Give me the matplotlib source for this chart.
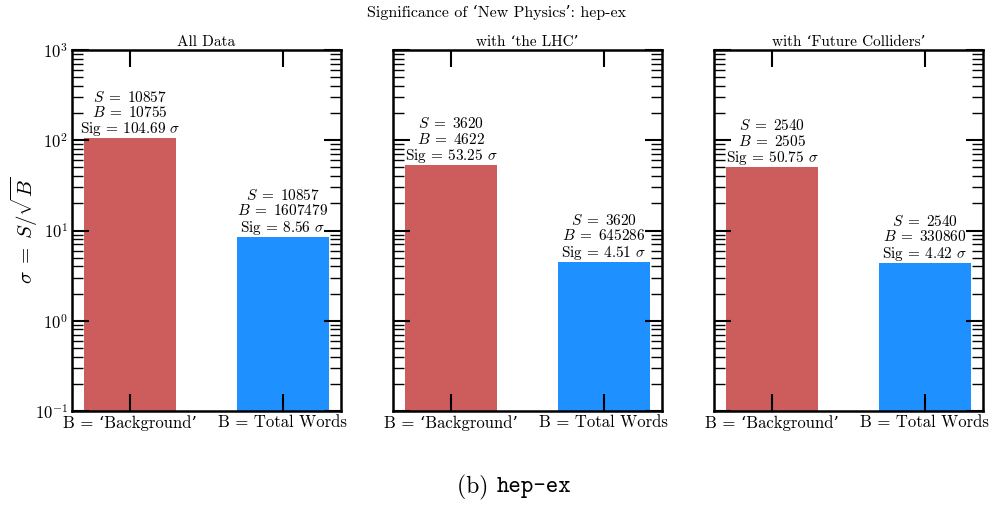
import matplotlib
matplotlib.use("Agg")
import matplotlib.pyplot as plt
import numpy as np

plt.rcParams['font.family'] = ['cmr10', 'DejaVu Serif']
plt.rcParams['mathtext.fontset'] = 'cm'
plt.rcParams['axes.formatter.use_mathtext'] = True
plt.rcParams['axes.unicode_minus'] = False

categories = ["B = \u2018Background\u2019", "B = Total Words"]
panel_titles = ["All Data", "with \u2018the LHC\u2019", "with \u2018Future Colliders\u2019"]
S_values = [[10857, 10857], [3620, 3620], [2540, 2540]]
B_values = [[10755, 1607479], [4622, 645286], [2505, 330860]]
sig_values = [[104.69, 8.56], [53.25, 4.51], [50.75, 4.42]]
bar_colors = ["indianred", "dodgerblue"]

fig = plt.figure(figsize=(9.93, 5.08), dpi=100)
lefts = [72, 393, 714]
width_px = 269
top_px, bot_px = 50, 411
W, H = 993, 508
axes = []
for i in range(3):
    ax = fig.add_axes([lefts[i] / W, 1 - bot_px / H, width_px / W, (bot_px - top_px) / H])
    axes.append(ax)
    x = np.arange(len(categories))
    ax.bar(x, sig_values[i], width=0.6, color=bar_colors)
    ax.set_yscale('log')
    ax.set_ylim(0.1, 1000)
    ax.set_xticks(x)
    ax.set_xticklabels(categories, fontsize=12)
    ax.set_title(panel_titles[i], fontsize=11, pad=3)
    for j in range(len(categories)):
        txt = "$S\\;=\\;%d$\n$B\\;=\\;%d$\nSig = %.2f $\\sigma$" % (S_values[i][j], B_values[i][j], sig_values[i][j])
        ax.text(x[j], sig_values[i][j], txt, ha='center', va='bottom', fontsize=11, linespacing=1.02)
    ax.tick_params(axis='both', which='both', direction='in', top=True, right=True)
    ax.tick_params(axis='both', which='major', length=12, width=1.5, pad=3)
    ax.tick_params(axis='y', which='minor', length=8, width=1.0)
    ax.tick_params(axis='x', which='minor', bottom=False, top=False)
    for sp in ax.spines.values():
        sp.set_linewidth(1.8)
    ax.tick_params(axis='y', labelsize=12)
    if i > 0:
        ax.tick_params(axis='y', which='both', labelleft=False)

axes[0].set_ylabel("$\\sigma\\;=\\;S/\\sqrt{B}$", fontsize=15, labelpad=-4)
fig.text(0.5, 1 - 12 / H, "Significance of \u2018New Physics\u2019: hep-ex", ha='center', va='center', fontsize=11.5)
fig.text(0.5, 1 - 487 / H, "(b) ", ha='right', va='center', fontsize=17)
fig.text(0.5, 1 - 487 / H, "hep-ex", ha='left', va='center', fontsize=17, family=['cmtt10', 'DejaVu Sans Mono'])
fig.savefig("out.png", dpi=100)
